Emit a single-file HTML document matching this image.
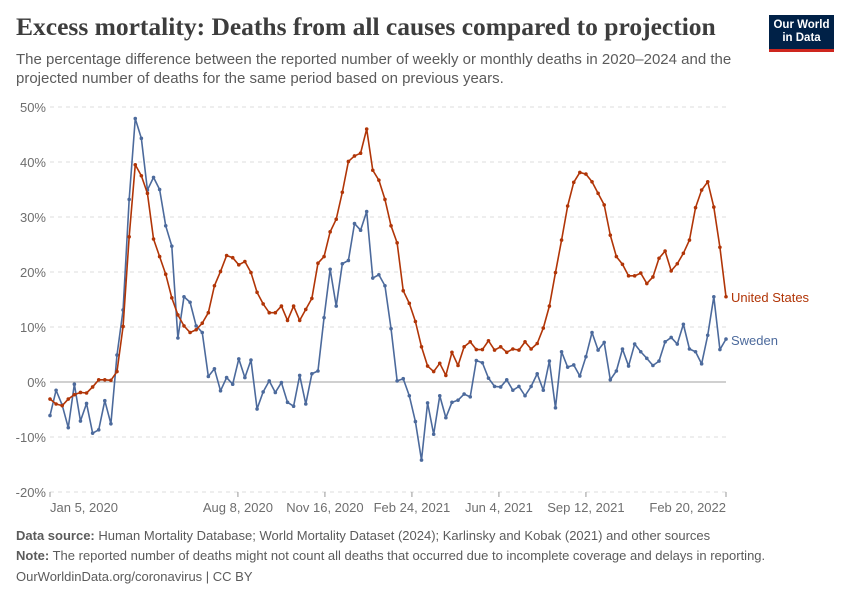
<!DOCTYPE html>
<html><head><meta charset="utf-8"><style>
body{margin:0;background:#fff;font-family:"Liberation Sans",sans-serif;}
#wrap{position:relative;width:850px;height:600px;overflow:hidden}
.t{position:absolute;white-space:nowrap}
</style></head><body><div id="wrap">
<div class="t" style="left:16px;top:12px;font-family:'Liberation Serif',serif;font-weight:bold;font-size:25.5px;color:#3d3d3d">Excess mortality: Deaths from all causes compared to projection</div>
<div class="t" style="left:16px;top:50px;font-size:15px;line-height:19px;color:#5b5b5b">The percentage difference between the reported number of weekly or monthly deaths in 2020–2024 and the<br>projected number of deaths for the same period based on previous years.</div>
<div style="position:absolute;left:769px;top:15px;width:65px;height:37px;background:#002147;border-bottom:3px solid #ce261e;box-sizing:border-box;color:#fff;font-size:11.5px;line-height:13px;text-align:center;padding-top:4px;font-weight:bold">Our World<br>in Data</div>
<svg id="chart" width="850" height="600" style="position:absolute;left:0;top:0"></svg>
<div class="t" style="left:16px;top:528px;font-size:13px;color:#5b5b5b"><b>Data source:</b> Human Mortality Database; World Mortality Dataset (2024); Karlinsky and Kobak (2021) and other sources</div>
<div class="t" style="left:16px;top:548px;font-size:13px;color:#5b5b5b"><b>Note:</b> The reported number of deaths might not count all deaths that occurred due to incomplete coverage and delays in reporting.</div>
<div class="t" style="left:16px;top:569px;font-size:13px;color:#5b5b5b">OurWorldinData.org/coronavirus | CC BY</div>
</div>
<script>
const startDate = "2020-01-05";
const usValues = [-3.1,-4.0,-4.3,-3.1,-2.3,-1.9,-2.0,-0.9,0.4,0.4,0.3,1.9,10.1,26.4,39.5,37.5,34.3,26.0,22.8,19.6,15.3,12.2,10.2,9.0,9.5,10.7,12.6,17.5,20.1,23.0,22.6,21.3,21.9,19.9,16.3,14.2,12.6,12.6,13.8,11.2,13.8,11.2,13.2,15.2,21.6,22.8,27.3,29.6,34.5,40.1,41.1,41.6,46.0,38.5,36.7,33.2,28.4,25.3,16.6,14.3,11.0,6.4,2.9,1.9,3.4,1.2,5.4,3.0,6.4,7.3,5.9,5.9,7.5,5.8,6.4,5.4,6.0,5.8,7.3,6.0,7.0,9.8,13.8,19.9,25.8,32.0,36.3,38.1,37.8,36.4,34.3,32.2,26.7,22.8,21.4,19.3,19.3,19.8,17.9,19.1,22.5,23.8,20.2,21.5,23.4,25.8,31.7,34.9,36.4,31.8,24.5,15.5];
const seValues = [-6.1,-1.5,-4.2,-8.3,-0.4,-7.1,-3.9,-9.3,-8.7,-3.4,-7.6,4.9,13.1,33.2,47.9,44.3,34.9,37.2,35.0,28.4,24.7,8.0,15.5,14.5,10.2,9.0,1.0,2.4,-1.6,0.8,-0.4,4.2,0.8,4.0,-4.9,-1.8,0.2,-1.9,-0.1,-3.7,-4.4,1.2,-4.0,1.5,2.0,11.7,20.5,13.8,21.5,22.1,28.8,27.6,31.0,18.9,19.5,17.5,9.7,0.2,0.6,-2.5,-7.2,-14.2,-3.8,-9.5,-2.5,-6.5,-3.7,-3.3,-2.2,-2.7,3.9,3.5,0.7,-0.8,-0.9,0.4,-1.5,-0.8,-2.5,-0.8,1.5,-1.5,3.8,-4.7,5.5,2.7,3.1,1.1,4.6,9.0,5.8,7.2,0.4,2.0,6.0,2.9,6.9,5.5,4.3,3.0,3.8,7.3,8.1,6.9,10.5,6.0,5.5,3.3,8.5,15.5,5.9,7.8];
const yTicks = [-20,-10,0,10,20,30,40,50];
const xTickLabels = ["Jan 5, 2020","Aug 8, 2020","Nov 16, 2020","Feb 24, 2021","Jun 4, 2021","Sep 12, 2021","Feb 20, 2022"];
const xTickDays = [0,216,316,416,516,616,777];

const svg=document.getElementById('chart');const NS='http://www.w3.org/2000/svg';
const X0=50,X1=726,Y0=492,Y1=107,YMIN=-20,YMAX=50,DMAX=777;
const xs=d=>X0+(d/DMAX)*(X1-X0);
const ys=v=>Y0-(v-YMIN)/(YMAX-YMIN)*(Y0-Y1);
function mk(t,a){const e=document.createElementNS(NS,t);for(const k in a)e.setAttribute(k,a[k]);svg.appendChild(e);return e;}
yTicks.forEach(v=>{
  const l=mk('line',{x1:X0,x2:X1,y1:ys(v),y2:ys(v),stroke:v===0?'#a0a0a0':'#dddddd','stroke-width':1,'stroke-dasharray':v===0?'':'4,4'});
  
  
  const t=mk('text',{x:46,y:ys(v)+5,'text-anchor':'end','font-size':13,fill:'#6e6e6e','font-family':'Liberation Sans, sans-serif'});
  t.textContent=v+'%';
  
  
});
xTickLabels.forEach((s,i)=>{
  const x=xs(xTickDays[i]);
  const tk=mk('line',{x1:x,x2:x,y1:Y0,y2:Y0+5,stroke:'#999'});
  
  
  const anc=i===0?'start':(i===xTickLabels.length-1?'end':'middle');
  const t=mk('text',{x:x,y:Y0+20,'text-anchor':anc,'font-size':13,fill:'#6e6e6e','font-family':'Liberation Sans, sans-serif'});
  t.textContent=s;
  
  
});
function series(vals,color,name,label,ly){
  const pts=vals.map((v,i)=>[xs(i*7),ys(v)]);
  const p=mk('polyline',{points:pts.map(p=>p.join(',')).join(' '),fill:'none',stroke:color,'stroke-width':1.6,'stroke-linejoin':'round'});
  
  
  pts.forEach(q=>{const c=mk('circle',{cx:q[0],cy:q[1],r:1.8,fill:color});
    
    });
  const last=pts[pts.length-1];
  const t=mk('text',{x:last[0]+5,y:last[1]+5+ly,'font-size':13,fill:color,'font-family':'Liberation Sans, sans-serif'});
  t.textContent=label;
  
  
}
series(seValues,'#4c6a9c','sweden','Sweden',1);
series(usValues,'#b13507','united-states','United States',0);
</script></body></html>
